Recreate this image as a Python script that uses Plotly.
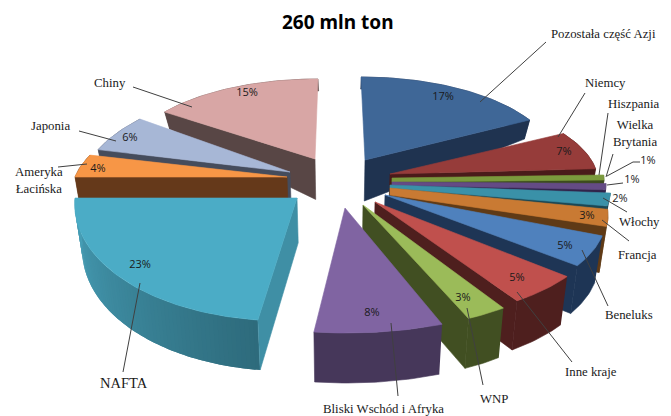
import numpy as np
import plotly.graph_objects as go

# Share of the total per region, clockwise from twelve o'clock
regions = ["Pozostała część Azji", "Niemcy", "Hiszpania", "Wielka Brytania", "Włochy", "Francja",
           "Beneluks", "Inne kraje", "WNP", "Bliski Wschód i Afryka", "NAFTA",
           "Ameryka Łacińska", "Japonia", "Chiny"]
shares = [17, 7, 1, 1, 2, 3, 5, 5, 3, 8, 23, 4, 6, 15]

# Exploded-slice placement in page pixels: apex x, apex y, x radius, y radius, shear
placement = [
    (365, 160, 190, 83, 4), (390, 174, 207, 84, 17), (392, 180, 212, 80, 0),
    (392, 183.5, 214, 100, 0), (390, 186.5, 221, 104, 0), (390, 191.5, 211, 95, 55),
    (385, 195, 219, 111, 37), (375, 202, 232, 117, 21), (363, 205, 221, 122, 26),
    (345, 208, 260, 125, 1.5), (297, 198, 222, 123, -11.4), (287, 177, 212, 88, -34),
    (290, 172, 205, 90, -27), (315, 159, 188, 80, -3),
]
# Half thickness of the blunted apex on the narrow slices
apex_half = [0, 0, 2, 1.5, 1.5, 3.5, 0, 0, 0, 0, 0, 0, 0, 0]
top_colors = ["#3F6797", "#963C3A", "#7B9A3D", "#644B85", "#3A91A8", "#C97A33", "#4F81BD",
              "#C0504D", "#9BBB59", "#8064A2", "#4BACC6", "#F79646", "#A7B7D6", "#D8A6A5"]
side_colors = ["#1F3350", "#4A1B1A", "#3C4B1D", "#31244A", "#1B4754", "#5F3A16", "#1E3555",
               "#4E1F1E", "#414F22", "#46375A", "#3F8FA5", "#65391A", "#454C5C", "#584645"]
# Rim wall colour at the start and the end of each slice's arc
wall_colors = [(c, c) for c in side_colors]
wall_colors[10] = ("#2E6B7C", "#479FB7")
# Which cut face shows: the end face on the right, the start face on the left
cut_face = ["end"] * 9 + [None] + ["start"] * 4
# Far slices are painted first so nearer ones cover them
paint_order = [0, 1, 13, 2, 3, 4, 5, 12, 11, 6, 7, 8, 9, 10]

VANISH_X, LEAN = 340, 0.972


def wall_height(y):
    return np.interp(y, [80, 118, 160, 200, 320, 380], [12, 18, 41, 45, 50, 50])


def lower(x, y):
    return VANISH_X + (np.asarray(x) - VANISH_X) * LEAN, np.asarray(y) + wall_height(y)


def rim(place, theta):
    ax, ay, a, b, s = place
    u, v = np.sin(theta), -np.cos(theta)
    return ax + a * u + s * v, ay + b * v


def blend(c0, c1, t):
    p = [int(c0[i:i + 2], 16) for i in (1, 3, 5)]
    q = [int(c1[i:i + 2], 16) for i in (1, 3, 5)]
    return "rgb(%d,%d,%d)" % tuple(round(m + (n - m) * t) for m, n in zip(p, q))


def polygon(fig, xs, ys, color, outline=0.6):
    line = dict(color=color, width=outline)
    fig.add_trace(go.Scatter(x=list(xs), y=list(ys), mode="lines" if outline else "none",
                             fill="toself", fillcolor=color, line=line,
                             hoverinfo="skip", showlegend=False))


fig = go.Figure()
edges = np.cumsum([0] + shares) / sum(shares) * 2 * np.pi

for i in paint_order:
    place = placement[i]
    ax, ay = place[0], place[1]
    thetas = np.linspace(edges[i], edges[i + 1], max(6, shares[i] * 3))
    rx, ry = rim(place, thetas)
    bx, by = lower(rx, ry)

    # Outer wall; the shaded one is built from overlapping strips
    c0, c1 = wall_colors[i]
    if c0 == c1:
        polygon(fig, [*rx, *bx[::-1]], [*ry, *by[::-1]], c0)
    else:
        n = len(thetas)
        for k in range(n - 1):
            e = min(k + 2, n - 1)
            polygon(fig, [*rx[k:e + 1], *bx[k:e + 1][::-1]], [*ry[k:e + 1], *by[k:e + 1][::-1]],
                    blend(c0, c1, k / max(1, n - 2)), outline=0)

    # Flat cut face running back to the apex
    if cut_face[i]:
        j = -1 if cut_face[i] == "end" else 0
        abx, aby = lower(ax, ay)
        polygon(fig, [ax, rx[j], bx[j], abx, ax], [ay, ry[j], by[j], aby, ay], side_colors[i])

    # Top face, with a blunt inner end where the slice is very narrow
    h = apex_half[i]
    polygon(fig, [ax, *rx, ax, ax], [ay - h, *ry, ay + h, ay - h], top_colors[i])

# Leader lines from labels to slices
leaders = [
    [(546, 42), (480, 102)], [(585, 93), (558, 137)], [(608, 113), (599, 175)],
    [(613, 154), (606, 177)], [(640, 162), (633, 162), (607, 176)],
    [(623, 183), (607, 185)], [(603, 198), (627, 212)], [(602, 220), (629, 241)],
    [(582, 250), (608, 306)], [(517, 292), (572, 362)], [(467, 308), (483, 385)],
    [(391, 323), (398, 396)], [(140, 283), (123, 372)], [(58, 167), (87, 164)],
    [(79, 131), (116, 141)], [(133, 87), (192, 107)],
]
for path in leaders:
    fig.add_trace(go.Scatter(x=[p[0] for p in path], y=[p[1] for p in path], mode="lines",
                             line=dict(color="#404040", width=1), hoverinfo="skip", showlegend=False))

# Percentage labels sit on the slices
percent_pos = [(443, 97), (564, 152), (648, 161), (632, 180), (620, 199), (587, 216), (565, 246),
               (517, 278), (463, 298), (372, 313), (140, 265), (98, 169), (130, 138), (247, 93)]
fig.add_trace(go.Scatter(x=[p[0] for p in percent_pos], y=[p[1] for p in percent_pos], mode="text",
                         text=[f"{v}%" for v in shares], hoverinfo="skip", showlegend=False,
                         textfont=dict(family="Open Sans", size=11, color="#1A1A1A")))

# Category labels, with line breaks for the long names
label_text = ["Pozostała część Azji", "Niemcy", "Hiszpania", "Wielka<br>Brytania", "Włochy", "Francja",
              "Beneluks", "Inne kraje", "WNP", "Bliski Wschód i Afryka", "NAFTA",
              "Ameryka<br>Łacińska", "Japonia", "Chiny"]
label_size = [12.8] * 10 + [14.5] + [12.8] * 3
label_pos = [(603, 34), (605, 83), (633, 104), (635, 133), (639, 222), (637, 255), (629, 315),
             (591, 372), (494, 399), (383, 409), (124, 383), (39, 180), (50, 126), (110, 83)]
for text, size, (x, y) in zip(label_text, label_size, label_pos):
    fig.add_annotation(x=x, y=y, text=text, showarrow=False, xref="x", yref="y",
                       font=dict(family="Liberation Serif", size=size, color="#1A1A1A"), align="center")

fig.add_annotation(x=338, y=22, text="<b>260 mln ton</b>", showarrow=False, xref="x", yref="y",
                   font=dict(family="Noto Sans", size=19, color="#000000"))

fig.update_layout(
    width=671, height=416, margin=dict(l=0, r=0, t=0, b=0),
    paper_bgcolor="white", plot_bgcolor="white", showlegend=False,
    xaxis=dict(range=[0, 671], visible=False, fixedrange=True),
    yaxis=dict(range=[416, 0], visible=False, fixedrange=True),
)
fig.write_html("out.html", config={"displayModeBar": False})
